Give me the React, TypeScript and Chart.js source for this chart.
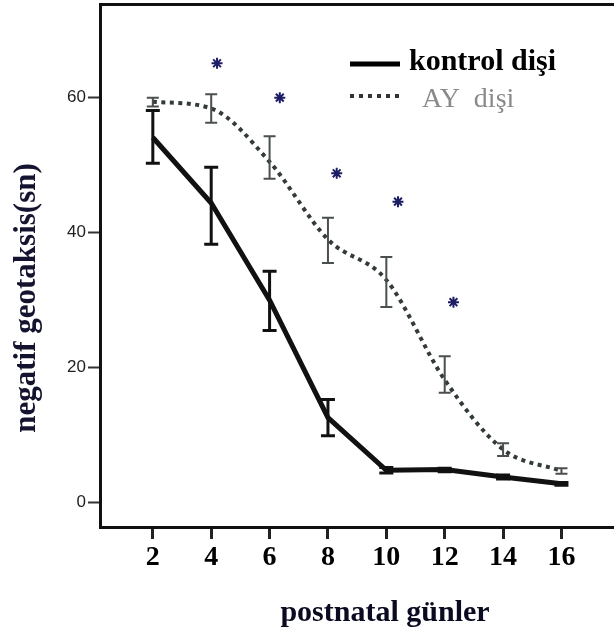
import React, { useEffect, useRef } from "react";
import { Chart, registerables } from "chart.js";

Chart.register(...registerables);

// ---- data ----
const days = [2, 4, 6, 8, 10, 12, 14, 16];
const yTickValues = [0, 20, 40, 60];

const kontrolMean = [54, 44.3, 29.9, 12.5, 4.7, 4.8, 3.7, 2.7];
const kontrolLow = [50.2, 38.2, 25.4, 9.8, 4.3, 4.5, 3.4, 2.5];
const kontrolHigh = [58.0, 49.6, 34.2, 15.2, 5.1, 5.0, 4.0, 2.9];

const ayMean = [59.3, 58.3, 50.4, 38.9, 32.9, 18.1, 7.8, 4.6];
const ayLow = [58.6, 56.2, 47.9, 35.4, 28.9, 16.2, 6.8, 4.2];
const ayHigh = [59.9, 60.4, 54.2, 42.1, 36.3, 21.6, 8.7, 5.0];

const starX = [4.2, 6.35, 8.3, 10.4, 12.3];
const starY = [65, 59.9, 48.7, 44.5, 29.6];

const legendLabels = ["kontrol dişi", "AY  dişi"];
const yTitle = "negatif geotaksis(sn)";
const xTitle = "postnatal günler";

const X_MIN = 0.19;
const X_MAX = 17.8;
const Y_MIN = -3.7;
const Y_MAX = 73.78;

const zeroPad = (s: any) => {
  s.paddingTop = 0;
  s.paddingBottom = 0;
  s.paddingLeft = 0;
  s.paddingRight = 0;
};

const errorBarPlugin = {
  id: "errorBars",
  afterDatasetsDraw(chart: any) {
    const xs = chart.scales.x;
    const ys = chart.scales.y;
    const ctx = chart.ctx;
    const draw = (lo: number[], hi: number[], color: string, lw: number, cap: number) => {
      ctx.save();
      ctx.strokeStyle = color;
      ctx.lineWidth = lw;
      days.forEach((d, i) => {
        const px = xs.getPixelForValue(d);
        const y1 = ys.getPixelForValue(lo[i]);
        const y2 = ys.getPixelForValue(hi[i]);
        ctx.beginPath();
        ctx.moveTo(px, y1);
        ctx.lineTo(px, y2);
        ctx.moveTo(px - cap / 2, y1);
        ctx.lineTo(px + cap / 2, y1);
        ctx.moveTo(px - cap / 2, y2);
        ctx.lineTo(px + cap / 2, y2);
        ctx.stroke();
      });
      ctx.restore();
    };
    draw(ayLow, ayHigh, "#4a4f50", 2, 12);
    draw(kontrolLow, kontrolHigh, "#111", 3, 14);
  },
};

const decorPlugin = {
  id: "decor",
  afterDraw(chart: any) {
    const ctx = chart.ctx;
    ctx.save();
    // legend
    ctx.strokeStyle = "#000";
    ctx.lineWidth = 5;
    ctx.lineCap = "butt";
    ctx.beginPath();
    ctx.moveTo(350, 64);
    ctx.lineTo(400, 64);
    ctx.stroke();
    ctx.strokeStyle = "#333";
    ctx.lineWidth = 4;
    ctx.setLineDash([4, 5]);
    ctx.beginPath();
    ctx.moveTo(350, 96);
    ctx.lineTo(400, 96);
    ctx.stroke();
    ctx.setLineDash([]);
    ctx.textBaseline = "middle";
    ctx.textAlign = "left";
    ctx.fillStyle = "#000";
    ctx.font = "bold 30px 'Liberation Serif'";
    ctx.fillText(legendLabels[0], 409, 62);
    ctx.fillStyle = "#8a8a8a";
    ctx.font = "28px 'Liberation Serif'";
    ctx.fillText(legendLabels[1], 422, 100);
    // x title
    ctx.textAlign = "center";
    ctx.fillStyle = "#0a0a20";
    ctx.font = "bold 30px 'Liberation Serif'";
    ctx.fillText(xTitle, 385, 613);
    // y title
    ctx.translate(27, 298);
    ctx.rotate(-Math.PI / 2);
    ctx.fillStyle = "#141430";
    ctx.font = "bold 31px 'Liberation Serif'";
    ctx.fillText(yTitle, 0, 0);
    ctx.restore();
  },
};

export default function App() {
  const ref = useRef<HTMLCanvasElement | null>(null);

  useEffect(() => {
    if (!ref.current) return;
    const chart = new Chart(ref.current, {
      type: "line",
      data: {
        datasets: [
          {
            label: legendLabels[0],
            data: days.map((d, i) => ({ x: d, y: kontrolMean[i] })),
            borderColor: "#111",
            borderWidth: 5,
            pointRadius: 0,
            tension: 0,
            fill: false,
          },
          {
            label: legendLabels[1],
            data: days.map((d, i) => ({ x: d, y: ayMean[i] })),
            borderColor: "#333a3a",
            borderWidth: 4,
            borderDash: [4, 4.5],
            pointRadius: 0,
            cubicInterpolationMode: "monotone",
            fill: false,
          },
          {
            label: "*",
            data: starX.map((x, i) => ({ x, y: starY[i] })),
            showLine: false,
            pointStyle: "star",
            pointRadius: 5.5,
            borderWidth: 2,
            borderColor: "#1d1d66",
            backgroundColor: "#1d1d66",
          },
        ],
      },
      options: {
        animation: false,
        responsive: true,
        maintainAspectRatio: false,
        layout: { padding: 0, autoPadding: false },
        plugins: {
          legend: { display: false },
          tooltip: { enabled: false },
        },
        scales: {
          x: {
            type: "linear",
            position: "bottom",
            min: X_MIN,
            max: X_MAX,
            afterBuildTicks: (s: any) => {
              s.ticks = days.map((v) => ({ value: v }));
            },
            afterFit: (s: any) => {
              s.height = 108;
              zeroPad(s);
            },
            grid: {
              display: true,
              drawOnChartArea: false,
              drawTicks: true,
              tickLength: 12,
              tickWidth: 3,
              tickColor: "#222",
            },
            border: { display: true, color: "#111", width: 3 },
            ticks: {
              autoSkip: false,
              maxRotation: 0,
              padding: 2,
              color: "#000",
              font: { family: "'Liberation Serif'", size: 28, weight: "bold" },
            },
          },
          x2: {
            type: "linear",
            position: "top",
            display: true,
            min: X_MIN,
            max: X_MAX,
            afterFit: (s: any) => {
              s.height = 4;
              zeroPad(s);
            },
            grid: { display: false },
            ticks: { display: false },
            border: { display: true, color: "#111", width: 3 },
          },
          y: {
            type: "linear",
            min: Y_MIN,
            max: Y_MAX,
            afterBuildTicks: (s: any) => {
              s.ticks = yTickValues.map((v) => ({ value: v }));
            },
            afterFit: (s: any) => {
              s.width = 100;
              zeroPad(s);
            },
            grid: {
              display: true,
              drawOnChartArea: false,
              drawTicks: true,
              tickLength: 12,
              tickWidth: 2,
              tickColor: "#333",
            },
            border: { display: true, color: "#111", width: 3 },
            ticks: {
              padding: 2,
              color: "#222",
              font: { family: "'Liberation Sans'", size: 17 },
            },
          },
        },
      },
      plugins: [errorBarPlugin, decorPlugin],
    } as any);
    return () => chart.destroy();
  }, []);

  return (
    <div style={{ position: "absolute", left: 0, top: 0, width: 614, height: 635, background: "#fff" }}>
      <canvas ref={ref} />
    </div>
  );
}
